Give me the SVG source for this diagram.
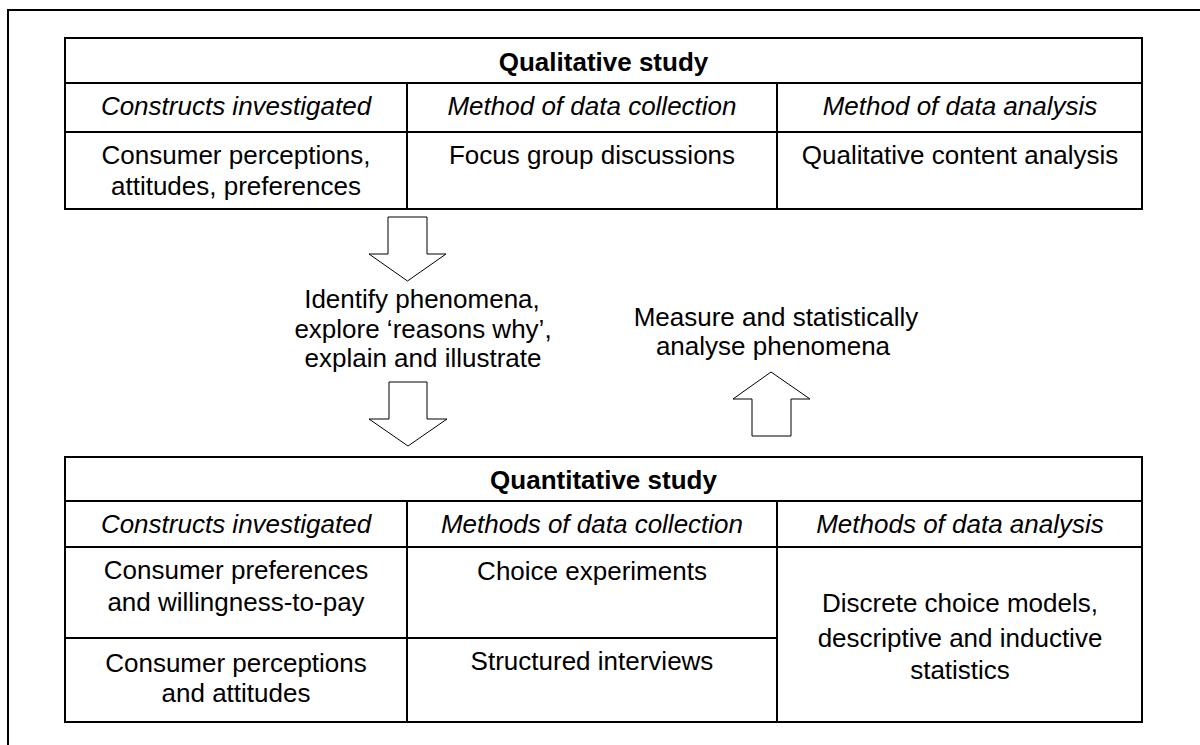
<svg xmlns="http://www.w3.org/2000/svg" width="1200" height="745" viewBox="0 0 1200 745">
<style>
.frame{fill:none;stroke:#000;stroke-width:2}
.grid{fill:none;stroke:#000;stroke-width:2}
.arrow{fill:#fff;stroke:#000;stroke-width:1}
text{font-family:"Liberation Sans",Arial,sans-serif;font-size:26px;fill:#000;text-anchor:middle}
.h{font-weight:bold}
.i{font-style:italic}
</style>
<rect width="1200" height="745" fill="#fff"/>
<path class="frame" d="M8,746 V10 H1201"/>
<g id="qualitative">
<rect class="grid" x="65" y="38" width="1077" height="171"/>
<path class="grid" d="M65,83 H1142 M65,132 H1142 M407,83 V209 M777,83 V209"/>
<text class="h" x="603.5" y="71">Qualitative study</text>
<text class="i" x="236" y="115">Constructs investigated</text>
<text class="i" x="592" y="115">Method of data collection</text>
<text class="i" x="960" y="115">Method of data analysis</text>
<text x="236" y="164">Consumer perceptions,</text>
<text x="236" y="195">attitudes, preferences</text>
<text x="592" y="164">Focus group discussions</text>
<text x="960" y="164">Qualitative content analysis</text>
</g>
<g id="connectors">
<polygon class="arrow" points="388,217 427,217 427,254 446,254 407.5,281 369,254 388,254"/>
<polygon class="arrow" points="389,382 427,382 427,419 447,419 408,446 369,419 389,419"/>
<polygon class="arrow" points="771,372 810,399 791,399 791,436 752,436 752,399 733,399"/>
</g>
<g id="label-identify">
<text x="422" y="308">Identify phenomena,</text>
<text x="423" y="338">explore ‘reasons why’,</text>
<text x="423" y="367">explain and illustrate</text>
</g>
<g id="label-measure">
<text x="776" y="326">Measure and statistically</text>
<text x="773" y="355">analyse phenomena</text>
</g>
<g id="quantitative">
<rect class="grid" x="65" y="457" width="1077" height="265"/>
<path class="grid" d="M65,501 H1142 M65,547 H1142 M65,638 H777 M407,501 V722 M777,501 V722"/>
<text class="h" x="603.5" y="489">Quantitative study</text>
<text class="i" x="236" y="533">Constructs investigated</text>
<text class="i" x="592" y="533">Methods of data collection</text>
<text class="i" x="960" y="533">Methods of data analysis</text>
<text x="236" y="579">Consumer preferences</text>
<text x="236" y="611">and willingness-to-pay</text>
<text x="236" y="672">Consumer perceptions</text>
<text x="236" y="702">and attitudes</text>
<text x="592" y="580">Choice experiments</text>
<text x="592" y="670">Structured interviews</text>
<text x="960" y="612">Discrete choice models,</text>
<text x="960" y="647">descriptive and inductive</text>
<text x="960" y="679">statistics</text>
</g>
</svg>
